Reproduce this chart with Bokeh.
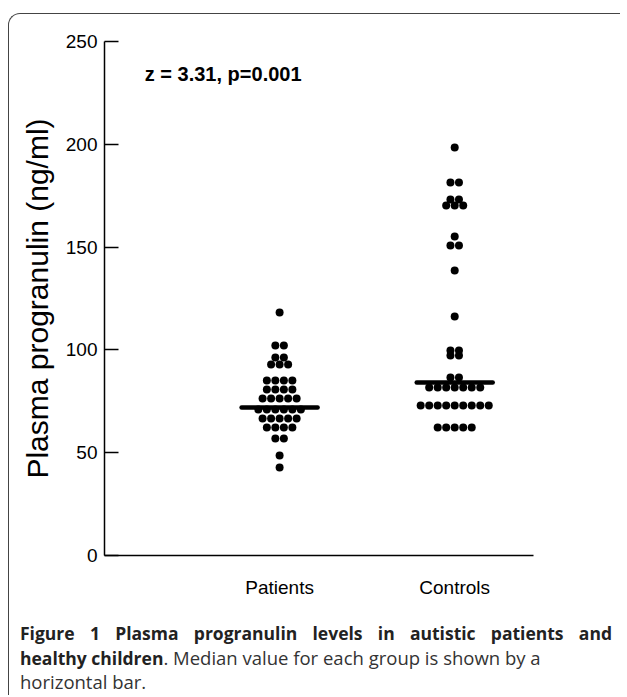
from bokeh.plotting import figure
from bokeh.models import Range1d, FixedTicker, Label, Div, ColumnDataSource
from bokeh.layouts import column
from bokeh.embed import file_html
from bokeh.resources import INLINE

# ---- data ----
categories = ["Patients", "Controls"]
patients = [118.2,
            102.1, 102.1,
            96.3, 96.3,
            92.9, 92.9, 92.9,
            85.1, 85.1, 85.1, 85.1,
            80.7, 80.7, 80.7, 80.7,
            76.4, 76.4, 76.4, 76.4, 76.4,
            71.0, 71.0, 71.0, 71.0, 71.0, 71.0,
            66.6, 66.6, 66.6, 66.6, 66.6,
            62.3, 62.3, 62.3, 62.3,
            56.9, 56.9,
            48.6,
            42.8]
controls = [198.4,
            181.4, 181.4,
            173.2, 173.2,
            170.2, 170.2, 170.2,
            155.2,
            150.8, 150.8,
            138.6,
            116.2,
            99.7, 99.7,
            97.3, 97.3,
            86.6, 86.6,
            81.7, 81.7, 81.7, 81.7, 81.7, 81.7, 81.7,
            73.0, 73.0, 73.0, 73.0, 73.0, 73.0, 73.0, 73.0, 73.0,
            62.3, 62.3, 62.3, 62.3, 62.3]
medians = [72.0, 84.1]
y_ticks = [0, 50, 100, 150, 200, 250]
stat_text = "z = 3.31, p=0.001"
y_label = "Plasma progranulin (ng/ml)"
caption_bold_1 = "Figure 1 Plasma progranulin levels in autistic patients and"
caption_bold_2 = "healthy children"
caption_rest = ". Median value for each group is shown by a"
caption_last = "horizontal bar."

STEP = 0.0486  # horizontal spacing of dots in a row (x units)


def swarm(values, center, step):
    xs, ys = [], []
    for v in sorted(set(values)):
        n = values.count(v)
        for i in range(n):
            xs.append(center + (i - (n - 1) / 2) * step)
            ys.append(v)
    return xs, ys


px, py = swarm(patients, 1, STEP)
cx, cy = swarm(controls, 2, STEP)

p = figure(width=610, height=593, output_backend="svg", toolbar_location=None,
           x_range=Range1d(0, 2.45), y_range=Range1d(0, 250),
           min_border_left=95, min_border_right=86, min_border_top=27,
           min_border_bottom=52)
p.outline_line_color = None
p.xgrid.visible = False
p.ygrid.visible = False
p.background_fill_color = None
p.border_fill_color = None

src = ColumnDataSource(dict(x=px + cx, y=py + cy))
p.scatter("x", "y", source=src, size=8, color="black", line_color=None)

mx = [1, 2]
p.segment(x0=[m - 0.217 for m in mx], x1=[m + 0.217 for m in mx],
          y0=medians, y1=medians, line_width=4.5, color="black", line_cap="round")

font = "Liberation Sans"
ya = p.yaxis[0]
ya.ticker = FixedTicker(ticks=y_ticks)
ya.major_tick_in = 14
ya.major_tick_out = 0
ya.minor_tick_line_color = None
ya.axis_line_width = 1.5
ya.major_tick_line_width = 1.5
ya.major_label_text_font = font
ya.major_label_text_font_size = "19px"
ya.major_label_text_color = "black"
ya.major_label_standoff = 7
ya.axis_label = y_label
ya.axis_label_text_font = font
ya.axis_label_text_font_size = "30px"
ya.axis_label_text_font_style = "normal"
ya.axis_label_text_color = "black"
ya.axis_label_standoff = 9

xa = p.xaxis[0]
xa.ticker = FixedTicker(ticks=[1, 2])
xa.major_label_overrides = {i + 1: c for i, c in enumerate(categories)}
xa.major_tick_in = 0
xa.major_tick_out = 0
xa.minor_tick_line_color = None
xa.axis_line_width = 1.5
xa.major_label_text_font = font
xa.major_label_text_font_size = "19px"
xa.major_label_text_color = "black"
xa.major_label_standoff = 21

p.add_layout(Label(x=0.23, y=234, text=stat_text, text_font=font,
                   text_font_size="20px", text_font_style="bold",
                   text_baseline="middle", text_color="black"))

cap = Div(text=(
    '<div style="font-family:\'Open Sans\';font-size:18.5px;line-height:24.5px;color:#333;width:592px">'
    '<div style="text-align:justify;text-align-last:justify;white-space:nowrap;'
    f'font-size:17.5px;color:#222"><b>{caption_bold_1}</b></div>'
    f'<div><b style="color:#222;font-size:17.5px">{caption_bold_2}</b>{caption_rest}</div>'
    f'<div>{caption_last}</div></div>'),
    width=600, margin=(14, 0, 0, 11))

layout = column(p, cap, margin=(13, 0, 0, 8),
                styles={"border-left": "1.5px solid #444", "border-top": "1.5px solid #444",
                        "border-top-left-radius": "12px"})

open("out.html", "w").write(file_html(layout, INLINE))
